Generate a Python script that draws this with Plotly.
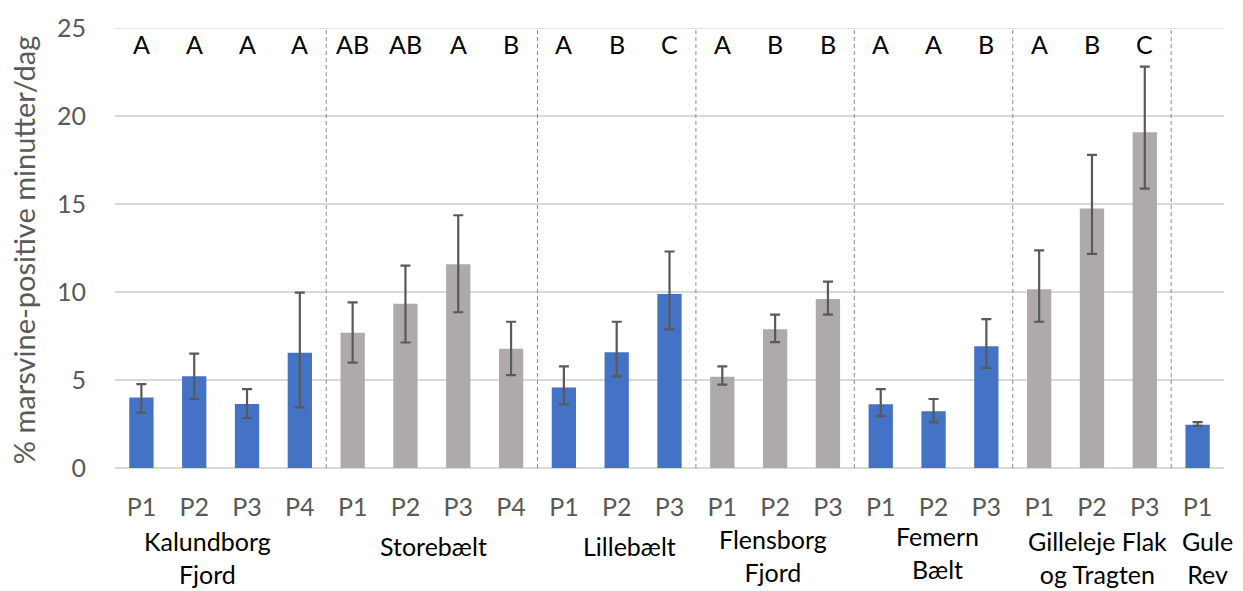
import plotly.graph_objects as go

# Sites (group labels) and how many stations each has
sites = ["Kalundborg<br>Fjord", "Storebælt", "Lillebælt", "Flensborg<br>Fjord",
         "Femern<br>Bælt", "Gilleleje Flak<br>og Tragten", "Gule<br>Rev"]
site_sizes = [4, 4, 3, 3, 3, 3, 1]
site_colors = ["#4472C4", "#AEAAAA", "#4472C4", "#AEAAAA", "#4472C4", "#AEAAAA", "#4472C4"]

# Stations, mean % porpoise-positive minutes per day and error margins
stations = ["P1", "P2", "P3", "P4",
            "P1", "P2", "P3", "P4",
            "P1", "P2", "P3",
            "P1", "P2", "P3",
            "P1", "P2", "P3",
            "P1", "P2", "P3",
            "P1"]
means = [4.0, 5.21, 3.64, 6.55,
         7.69, 9.33, 11.57, 6.78,
         4.57, 6.57, 9.88,
         5.19, 7.88, 9.6,
         3.62, 3.23, 6.92,
         10.16, 14.75, 19.08,
         2.46]
err_plus = [0.76, 1.29, 0.84, 3.42,
            1.72, 2.17, 2.79, 1.53,
            1.2, 1.74, 2.42,
            0.58, 0.84, 0.99,
            0.86, 0.69, 1.54,
            2.2, 3.04, 3.72,
            0.15]
err_minus = [0.85, 1.29, 0.8, 3.1,
             1.7, 2.2, 2.72, 1.5,
             0.95, 1.36, 2.0,
             0.45, 0.73, 0.88,
             0.67, 0.64, 1.23,
             1.85, 2.58, 3.21,
             0.07]
# Significance letters per station
letters = ["A", "A", "A", "A",
           "AB", "AB", "A", "B",
           "A", "B", "C",
           "A", "B", "B",
           "A", "A", "B",
           "A", "B", "C",
           ""]

y_ticks = [0, 5, 10, 15, 20, 25]
y_title = "% marsvine-positive minutter/dag"

FONT = "Lato, Carlito, Calibri, sans-serif"
GRID = "#D9D9D9"
TXT_GREY = "#595959"

x = list(range(len(means)))
bar_colors = []
for size, col in zip(site_sizes, site_colors):
    bar_colors += [col] * size

fig = go.Figure()
fig.add_trace(go.Bar(
    x=x, y=means,
    marker=dict(color=bar_colors, line=dict(width=0)),
    width=0.46,
    error_y=dict(type="data", symmetric=False, array=err_plus, arrayminus=err_minus,
                 visible=True, color=TXT_GREY, thickness=2.2, width=5),
    hoverinfo="skip",
))

shapes = []
annotations = []

# Dashed separators between sites
edge = -0.5
for size in site_sizes[:-1]:
    edge += size
    shapes.append(dict(type="line", xref="x", yref="y", x0=edge, x1=edge, y0=0, y1=25,
                       line=dict(color="#8C8C8C", width=1, dash="4px,3px"), layer="above"))

# Top gridline at 25
shapes.append(dict(type="line", xref="paper", yref="y", x0=0, x1=1, y0=25, y1=25,
                   line=dict(color=GRID, width=1.5), layer="below"))

# Significance letters above the bars
for xi, lab in zip(x, letters):
    if lab:
        annotations.append(dict(x=xi, y=24.1, xref="x", yref="y", text=lab,
                                showarrow=False, font=dict(family=FONT, size=25, color="#000000"),
                                xanchor="center", yanchor="middle"))

# Site labels under the station ticks (pixel-based placement)
label_x = [1.26, 5.54, 9.25, 11.96, 15.07, 18.1, 20.19]
label_py = [559, 547, 547, 557, 554, 559, 559]
plot_top, plot_bottom = 22, 468.3
for name, lx, py in zip(sites, label_x, label_py):
    annotations.append(dict(x=lx, y=(plot_bottom - py) / (plot_bottom - plot_top),
                            xref="x", yref="paper", text=name, showarrow=False,
                            font=dict(family=FONT, size=25, color="#000000"),
                            xanchor="center", yanchor="middle", align="center"))

# Y-axis title
annotations.append(dict(x=-0.083, y=0.495, xref="paper", yref="paper", text=y_title,
                        textangle=-90, showarrow=False,
                        font=dict(family=FONT, size=29, color=TXT_GREY),
                        xanchor="center", yanchor="middle"))

fig.update_layout(
    width=1243, height=591,
    margin=dict(l=115, r=19, t=22, b=123),
    paper_bgcolor="white", plot_bgcolor="white",
    showlegend=False,
    bargap=0.54,
    font=dict(family=FONT, color=TXT_GREY),
    xaxis=dict(range=[-0.5, len(means) - 0.5], tickmode="array", tickvals=x, ticktext=stations,
               showgrid=False, zeroline=False, showline=False, ticks="",
               tickfont=dict(family=FONT, size=25, color=TXT_GREY),
               ticklabelstandoff=22),
    yaxis=dict(range=[0, 25], tickmode="array", tickvals=y_ticks,
               showgrid=True, gridcolor=GRID, gridwidth=1.5,
               zeroline=True, zerolinecolor=GRID, zerolinewidth=1.5,
               showline=False, ticks="",
               tickfont=dict(family=FONT, size=25, color=TXT_GREY),
               ticklabelstandoff=28),
    shapes=shapes,
    annotations=annotations,
)

fig.write_html("out.html")
